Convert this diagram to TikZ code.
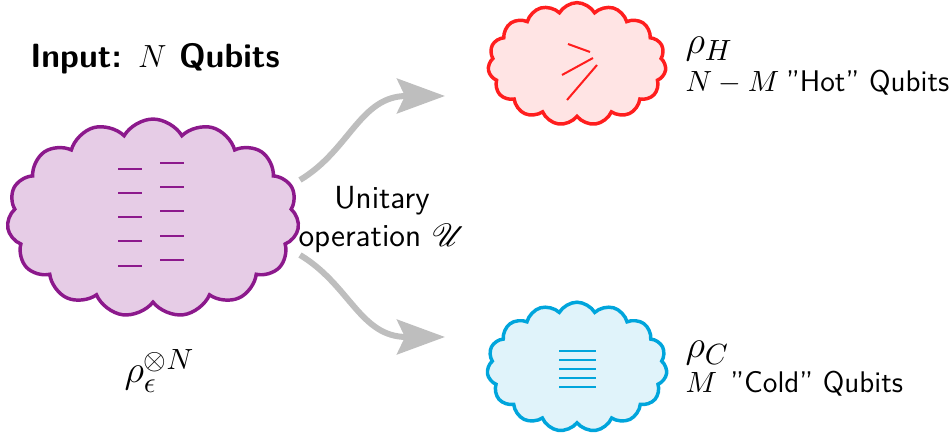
\documentclass[tikz,border=0pt]{standalone}
\usepackage{fontspec}
\usepackage{mathrsfs}
\usetikzlibrary{shapes.symbols,arrows.meta}
\definecolor{pstroke}{RGB}{140,25,140}
\definecolor{pfill}{RGB}{230,204,230}
\definecolor{rstroke}{RGB}{255,30,30}
\definecolor{rfill}{RGB}{255,228,228}
\definecolor{bstroke}{RGB}{0,165,220}
\definecolor{bfill}{RGB}{224,243,250}
\definecolor{agray}{RGB}{190,190,190}
\tikzset{
  cloudbox/.style={cloud, cloud puffs=15, cloud puff arc=120, cloud ignores aspect, inner sep=0pt, line width=1.3pt},
  qline/.style={line width=0.75pt},
  bigarrow/.style={draw=agray, line width=2.25pt, -{Stealth[length=18pt, width=13pt, inset=3pt]}},
  txt/.style={font=\sffamily\fontsize{12}{14.25}\selectfont, inner sep=0pt},
  lbl/.style={font=\sffamily\fontsize{11.2}{13}\selectfont, inner sep=0pt},
  rho/.style={font=\fontsize{15}{17}\selectfont, inner sep=0pt},
}
\begin{document}
\begin{tikzpicture}[x=0.375pt,y=-0.375pt]
\path[use as bounding box] (0,0) rectangle (951,437);
% clouds
\node[cloudbox, draw=pstroke, fill=pfill, minimum width=109.5pt, minimum height=74.2pt] (in) at (153,218) {};
\node[cloudbox, draw=rstroke, fill=rfill, minimum width=66.75pt, minimum height=46pt] (hot) at (577,64) {};
\node[cloudbox, draw=bstroke, fill=bfill, minimum width=67.5pt, minimum height=48.6pt] (cold) at (577,367) {};
% purple qubit levels
\foreach \y in {169,193,217,241,266} \draw[qline, pstroke] (118,\y) -- (142,\y);
\foreach \y in {163,187,211,236,260} \draw[qline, pstroke] (160,\y) -- (184,\y);
% red hot lines
\draw[qline, rstroke] (568,44) -- (590,52);
\draw[qline, rstroke] (593,58) -- (562,75);
\draw[qline, rstroke] (597,65) -- (567,100);
% blue cold lines
\foreach \y in {351,360,369,378,387} \draw[qline, bstroke] (559,\y) -- (596,\y);
% arrows
\coordinate (a1s) at (300,180);
\coordinate (a1e) at (445,96);
\coordinate (a2s) at (300,255);
\coordinate (a2e) at (445,337);
\draw[bigarrow] (a1s) .. controls (350,150) and (360,96) .. (a1e);
\draw[bigarrow] (a2s) .. controls (350,285) and (360,337) .. (a2e);
% texts
\node[txt, font=\sffamily\bfseries\fontsize{12.6}{15}\selectfont, anchor=base] (title) at (155,68) {Input: $N$ Qubits};
\node[txt, align=center] (op) at (382,220) {Unitary\\operation $\mathscr{U}$};
\node[rho, anchor=base west] (rh) at (685,54) {$\rho_H$};
\node[lbl, anchor=base west] (rhl) at (685,92) {$N-M$\hspace{2.5pt}"Hot" Qubits};
\node[rho, anchor=base west] (rc) at (685,358) {$\rho_C$};
\node[lbl, anchor=base west] (rcl) at (685,393) {$M$\hspace{5pt}"Cold" Qubits};
\node[rho, anchor=base west] (re) at (124,383) {$\rho_\epsilon^{\otimes N}$};
\end{tikzpicture}
\end{document}
